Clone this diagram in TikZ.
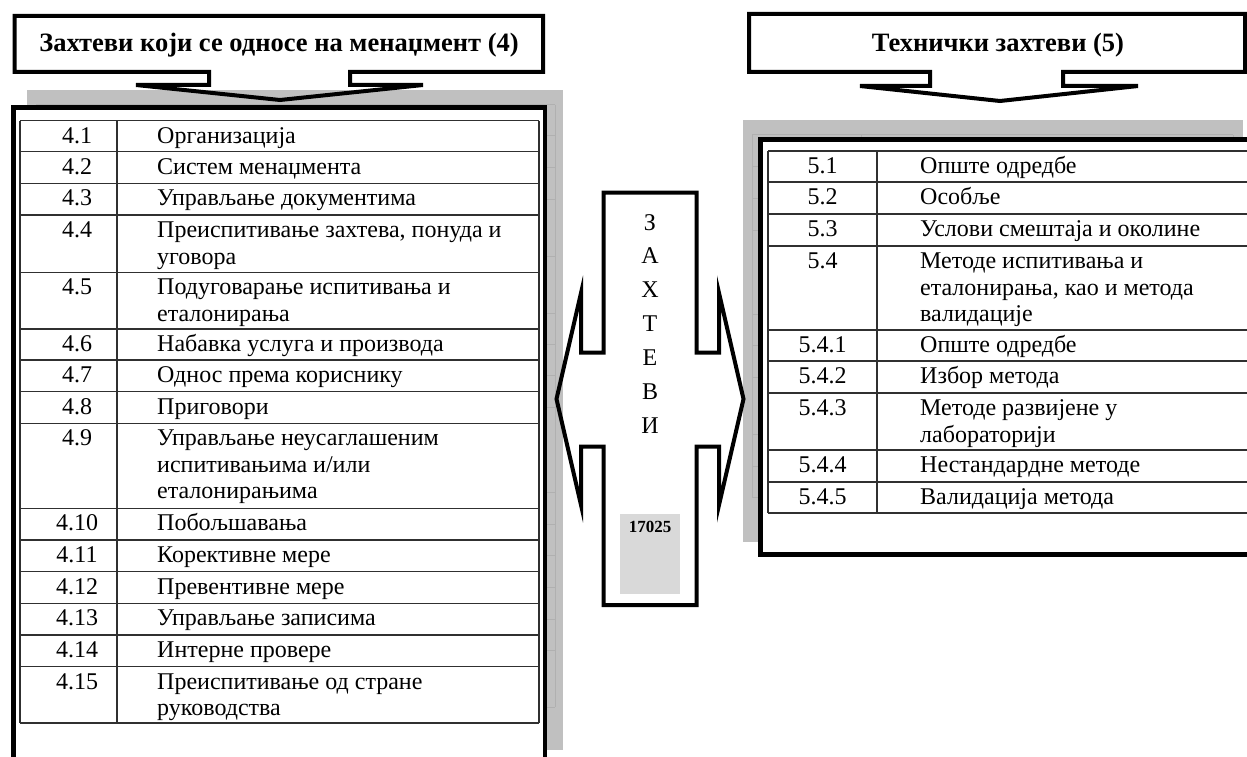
\documentclass[tikz,border=0pt]{standalone}
\usepackage{fontspec}
\setmainfont{LiberationSerif}[Extension=.ttf,UprightFont=*-Regular,BoldFont=*-Bold]
\newfontfamily\serifcell{LiberationSerif}[Extension=.ttf,UprightFont=*-Regular,BoldFont=*-Bold]
\definecolor{shadowgray}{HTML}{C0C0C0}
\definecolor{shadowrule}{HTML}{B0B0B0}
\definecolor{codegray}{HTML}{D9D9D9}
\definecolor{rulegray}{HTML}{303030}
\begin{document}
\begin{tikzpicture}[x=1pt,y=-1pt,
  cell/.style={anchor=base west,inner sep=0pt,font=\serifcell\fontsize{24}{26.5}\selectfont},
  numcell/.style={anchor=base,inner sep=0pt,font=\serifcell\fontsize{24}{26.5}\selectfont},
  titletext/.style={inner sep=0pt,font=\serifcell\bfseries\fontsize{26.5}{30}\selectfont},
  letter/.style={anchor=base,inner sep=0pt,font=\serifcell\fontsize{24}{26}\selectfont},
  tablerule/.style={draw=rulegray,line width=1.3pt},
  shadowgrid/.style={draw=shadowrule,line width=1pt},
  frameline/.style={draw=black,line width=4.5pt,fill=white},
  outline/.style={draw=black,line width=4pt,line join=miter}]
\useasboundingbox (0,0) rectangle (1247,757);
\clip (0,0) rectangle (1247,757);

% ---------- drop shadows ----------
\fill[shadowgray] (27,90) rectangle (563,750);
\fill[shadowgray] (743,120) rectangle (1243,542);

% left table grid repeated in the shadow
\begin{scope}[shift={(16,-16)}]
  \foreach \y in {120.7,151.7,183.3,215,272.3,329,360,391.7,423.3,508.3,540,571.7,603.3,635,666.7,723}
    \draw[shadowgrid] (20,\y) -- (539,\y);
  \draw[shadowgrid] (20,120.7) -- (20,723) (117,120.7) -- (117,723) (539,120.7) -- (539,723);
\end{scope}
% right table grid repeated in the shadow
\begin{scope}[shift={(-16,-16)}]
  \foreach \y in {151,182,214,246,330,361,393,450,482,513}
    \draw[shadowgrid] (768,\y) -- (1249,\y);
  \draw[shadowgrid] (768,151) -- (768,513) (877,151) -- (877,513) (1249,151) -- (1249,513);
\end{scope}

% ---------- frames ----------
\draw[frameline] (13.5,107.5) rectangle (545,772);
\draw[frameline] (760.5,139.5) rectangle (1264,554.5);

% ---------- left table: management requirements ----------
\foreach \y in {120.7,151.7,183.3,215,272.3,329,360,391.7,423.3,508.3,540,571.7,603.3,635,666.7,723}
  \draw[tablerule] (20,\y) -- (539,\y);
\draw[tablerule] (20,120.7) -- (20,723) (117,120.7) -- (117,723) (539,120.7) -- (539,723);

\foreach \y/\n [count=\i] in {143.2/4.1,174.2/4.2,205.8/4.3,237.5/4.4,294.8/4.5,351.5/4.6,
    382.5/4.7,414.2/4.8,445.8/4.9,530.8/4.10,562.5/4.11,594.2/4.12,625.8/4.13,657.5/4.14,689.2/4.15}
  \node[numcell] (ln\i) at (77,\y) {\n};

\foreach \y/\t [count=\i] in {143.2/Организација,
    174.2/Систем менаџмента,
    205.8/Управљање документима,
    237.5/{Преиспитивање захтева, понуда и},
    264/уговора,
    294.8/Подуговарање испитивања и,
    321.3/еталонирања,
    351.5/Набавка услуга и производа,
    382.5/Однос према кориснику,
    414.2/Приговори,
    445.8/Управљање неусаглашеним,
    472.3/{испитивањима и/или},
    498.8/еталонирањима,
    530.8/Побољшавања,
    562.5/Корективне мере,
    594.2/Превентивне мере,
    625.8/Управљање записима,
    657.5/Интерне провере,
    689.2/Преиспитивање од стране,
    715.7/руководства}
  \node[cell] (lt\i) at (157,\y) {\t};

% ---------- right table: technical requirements ----------
\foreach \y in {151,182,214,246,330,361,393,450,482,513}
  \draw[tablerule] (768,\y) -- (1249,\y);
\draw[tablerule] (768,151) -- (768,513) (877,151) -- (877,513) (1249,151) -- (1249,513);

\foreach \y/\n [count=\i] in {173.5/5.1,204.5/5.2,236.5/5.3,268.5/5.4,352.5/5.4.1,
    383.5/5.4.2,415.5/5.4.3,472.5/5.4.4,504.5/5.4.5}
  \node[numcell] (rn\i) at (822.5,\y) {\n};

\foreach \y/\t [count=\i] in {173.5/Опште одредбе,
    204.5/Особље,
    236.5/Услови смештаја и околине,
    268.5/Методе испитивања и,
    295/{еталонирања, као и метода},
    321.5/валидације,
    352.5/Опште одредбе,
    383.5/Избор метода,
    415.5/Методе развијене у,
    442/лабораторији,
    472.5/Нестандардне методе,
    504.5/Валидација метода}
  \node[cell] (rt\i) at (920,\y) {\t};

% ---------- callouts with titles ----------
\draw[outline] (14.5,16) -- (543,16) -- (543,72) -- (350,72) -- (350,85) -- (423,85)
  -- (280,100) -- (136,85) -- (209,85) -- (209,72) -- (14.5,72) -- cycle;
\node[titletext] (mgmt) at (279,45) {Захтеви који се односе на менаџмент (4)};

\draw[outline] (749,14) -- (1245,14) -- (1245,72) -- (1063,72) -- (1063,86) -- (1138,86)
  -- (1000,101) -- (860,86) -- (930,86) -- (930,72) -- (749,72) -- cycle;
\node[titletext] (tech) at (998,45) {Технички захтеви (5)};

% ---------- central double arrow ----------
\draw[outline] (603.5,192.5) -- (696.5,192.5) -- (696.5,352.5) -- (719,352.5) -- (719,293)
  -- (743.5,399) -- (719,505) -- (719,446.5) -- (696.5,446.5) -- (696.5,605)
  -- (603.5,605) -- (603.5,446.5) -- (581,446.5) -- (581,505) -- (556.5,399)
  -- (581,293) -- (581,352.5) -- (603.5,352.5) -- cycle;
\foreach \c [count=\i] in {З,А,Х,Т,Е,В,И}
  \node[letter] (z\i) at (650,{230+33.9*(\i-1)}) {\c};
\fill[codegray] (620,514) rectangle (679.5,593.5);
\node[anchor=base,inner sep=0pt,font=\serifcell\bfseries\fontsize{17}{20}\selectfont] (code) at (650,532) {17025};
\end{tikzpicture}
\end{document}
